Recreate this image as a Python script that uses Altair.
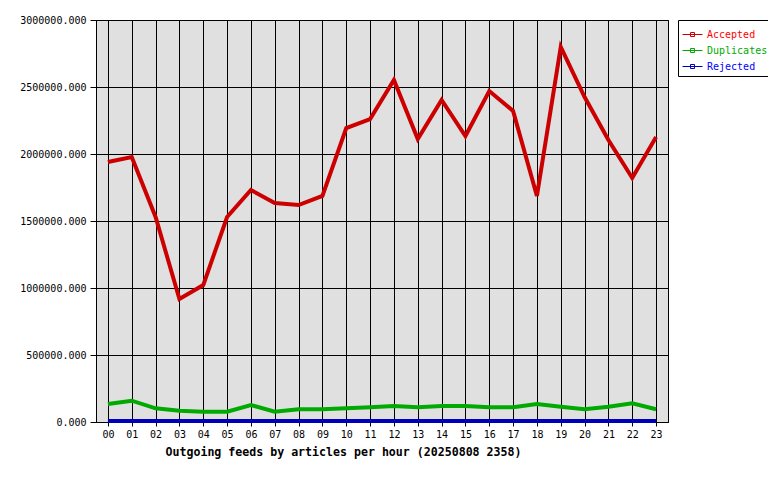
import altair as alt
import pandas as pd

hours = [0, 1, 2, 3, 4, 5, 6, 7, 8, 9, 10, 11, 12, 13, 14, 15, 16, 17, 18, 19, 20, 21, 22, 23]
accepted = [1940000, 1978000, 1530000, 918000, 1022000, 1530000, 1731000, 1634000,
            1619000, 1687000, 2194000, 2261000, 2552000, 2112000, 2403000, 2134000,
            2470000, 2321000, 1687000, 2799000, 2425000, 2104000, 1821000, 2127000]
duplicates = [134000, 159000, 102000, 84000, 77000, 77000, 127000, 77000,
              95000, 95000, 102000, 110000, 119000, 110000, 119000, 119000,
              110000, 110000, 134000, 114000, 95000, 114000, 139000, 95000]
rejected = [8000, 8000, 8000, 8000, 8000, 8000, 8000, 8000,
            8000, 8000, 8000, 8000, 8000, 8000, 8000, 8000,
            8000, 8000, 8000, 8000, 8000, 8000, 8000, 8000]
series = ["Accepted", "Duplicates", "Rejected"]
colors = ["#cc0000", "#00aa00", "#0000bb"]
y_ticks = [0, 500000, 1000000, 1500000, 2000000, 2500000, 3000000]
title_text = "Outgoing feeds by articles per hour (20250808 2358)"

rows = []
for name, vals in zip(series, [accepted, duplicates, rejected]):
    for h, v in zip(hours, vals):
        rows.append({"hour": h, "value": v, "series": name})
df = pd.DataFrame(rows)

MONO = "DejaVu Sans Mono"

chart = alt.Chart(df).mark_line(strokeWidth=4, interpolate="linear").encode(
    x=alt.X("hour:Q",
            scale=alt.Scale(domain=[-0.5, 23.5], nice=False, zero=False),
            axis=alt.Axis(values=hours,
                          labelExpr="datum.value < 10 ? '0' + datum.value : '' + datum.value",
                          title=title_text, grid=True, gridColor="black", gridWidth=1, gridOpacity=1,
                          domainColor="black", tickColor="black", tickSize=4,
                          labelFont=MONO, labelFontSize=10, labelColor="black", labelPadding=3,
                          labelFlush=False,
                          titleFont=MONO, titleFontSize=11.6, titleFontWeight="bold", titleColor="black",
                          titleX=69, titleY=24, titleAlign="left", titleBaseline="top")),
    y=alt.Y("value:Q",
            scale=alt.Scale(domain=[0, 3000000], nice=False),
            axis=alt.Axis(values=y_ticks, format=".3f", title=None, grid=True,
                          gridColor="black", gridWidth=1, gridOpacity=1,
                          domainColor="black", tickColor="black", tickSize=6,
                          labelFont=MONO, labelFontSize=10, labelColor="black", labelPadding=4)),
    color=alt.Color("series:N",
                    scale=alt.Scale(domain=series, range=colors),
                    legend=alt.Legend(orient="none", legendX=582, legendY=0, title=None,
                                      fillColor="white", strokeColor="black", padding=4,
                                      labelFont=MONO, labelFontSize=10, labelOffset=4,
                                      labelColor={"expr": "datum.label == 'Accepted' ? '#ff0000' : datum.label == 'Duplicates' ? '#00aa00' : '#0000ff'"},
                                      symbolType="M-1,0H1M-0.2,-0.2H0.2V0.2H-0.2Z",
                                      symbolSize=400, symbolStrokeWidth=1, rowPadding=-2)),
).properties(
    width=572, height=402,
    background="white",
    autosize=alt.AutoSizeParams(type="none"),
    padding={"left": 88, "top": 12, "right": 100, "bottom": 50},
).configure_view(
    fill="#e0e0e0", stroke="black", strokeWidth=1
)

chart.save("out.html", embed_options={"renderer": "svg", "actions": False})
